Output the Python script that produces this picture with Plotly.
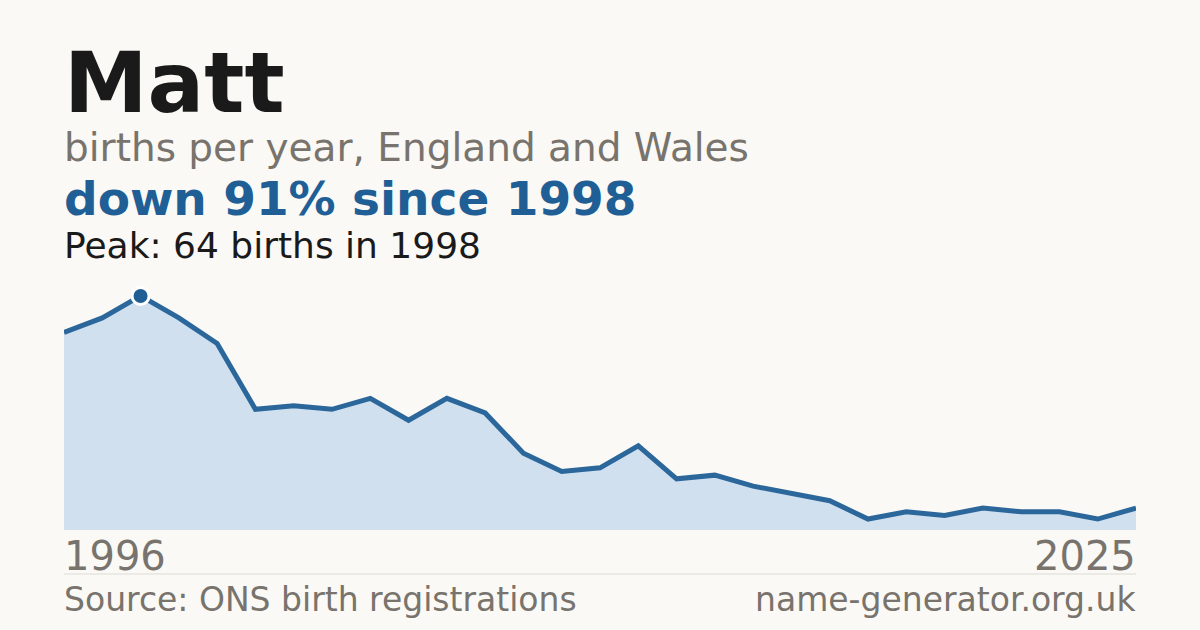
import plotly.graph_objects as go

# ---- data ----
years = list(range(1996, 2025))
births = [54, 58, 64, 58, 51, 33, 34, 33, 36, 30, 36, 32, 21, 16, 17, 23,
          14, 15, 12, 10, 8, 3, 5, 4, 6, 5, 5, 3, 6]
tick_labels = ["1996", "2025"]
peak_year = 1998
peak_value = 64

title = "Matt"
subtitle = "births per year, England and Wales"
headline = "down 91% since 1998"
peak_text = "Peak: 64 births in 1998"
source_text = "Source: ONS birth registrations"
site_text = "name-generator.org.uk"

# ---- layout helpers ----
W, H = 1200, 630
PLOT_TOP, PLOT_BOTTOM = 274, 530
L, R = 64, 64
BG = "#faf9f5"
BLUE = "#1f5f96"
GRAY = "#78736c"
DARK = "#1a1a1a"
FONT = "DejaVu Sans"


def py(p):
    return (PLOT_BOTTOM - p) / (PLOT_BOTTOM - PLOT_TOP)


fig = go.Figure()
fig.add_trace(go.Scatter(
    x=years, y=births, mode="lines",
    line=dict(color="#2b679b", width=5),
    fill="tozeroy", fillcolor="#d0e0ef",
    hoverinfo="skip", showlegend=False,
))
fig.add_trace(go.Scatter(
    x=[peak_year], y=[peak_value], mode="markers",
    marker=dict(size=17, color=BLUE, line=dict(color="white", width=3)),
    hoverinfo="skip", showlegend=False, cliponaxis=False,
))

ann = []


def text(t, x, ypix, size, color, bold=False, xanchor="left"):
    ann.append(dict(
        text=f"<b>{t}</b>" if bold else t,
        x=x, y=py(ypix), xref="paper", yref="paper",
        xanchor=xanchor, yanchor="middle", showarrow=False,
        xshift=-2 if xanchor == "left" else 2,
        font=dict(family=FONT, size=size, color=color),
    ))


text(title, 0, 83, 84, DARK, bold=True)
text(subtitle, 0, 147, 39, GRAY)
text(headline, 0, 198, 47, BLUE, bold=True)
text(peak_text, 0, 245, 36, DARK)
text(tick_labels[0], 0, 556, 40, GRAY)
text(tick_labels[1], 1, 556, 40, GRAY, xanchor="right")
text(source_text, 0, 599, 33, GRAY)
text(site_text, 1, 599, 33, GRAY, xanchor="right")

fig.update_layout(
    width=W, height=H,
    paper_bgcolor=BG, plot_bgcolor=BG,
    margin=dict(l=L, r=R, t=PLOT_TOP, b=H - PLOT_BOTTOM, pad=0),
    xaxis=dict(range=[years[0], years[-1]], visible=False, fixedrange=True),
    yaxis=dict(range=[0, 70], visible=False, fixedrange=True),
    annotations=ann,
    shapes=[dict(type="line", xref="paper", yref="paper",
                 x0=0, x1=1, y0=py(574), y1=py(574),
                 line=dict(color="#dddbd5", width=1))],
)

fig.write_html(
    "out.html",
    config={"displayModeBar": False},
    post_script="document.body.style.margin='0';document.body.style.background='" + BG + "';",
)
